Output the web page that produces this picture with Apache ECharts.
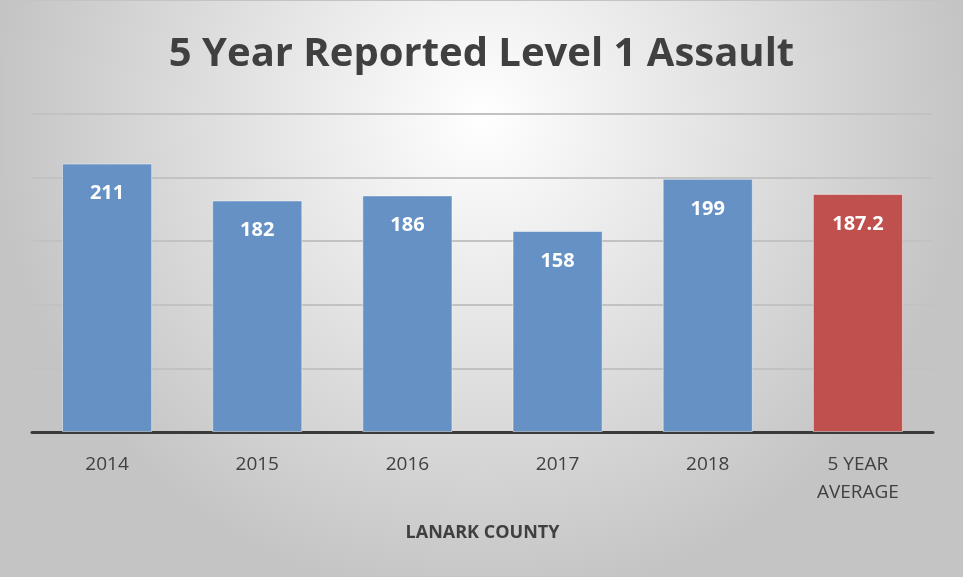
<!DOCTYPE html>
<html>
<head>
<meta charset="utf-8">
<script src="https://cdn.jsdelivr.net/npm/echarts@6/dist/echarts.min.js"></script>
<style>
  html, body { margin: 0; padding: 0; }
  #chart { width: 961px; height: 575px; border: 1px solid #c4c4c4; }
</style>
</head>
<body>
<div id="chart"></div>
<script>
const categories = ["2014", "2015", "2016", "2017", "2018", "5 YEAR\nAVERAGE"];
const counts = [211, 182, 186, 158, 199, 187.2];
const barColors = ["#6591c5", "#6591c5", "#6591c5", "#6591c5", "#6591c5", "#c0504d"];
const yTicks = [0, 50, 100, 150, 200, 250];

const chart = echarts.init(document.getElementById("chart"));
chart.setOption({
  backgroundColor: {
    type: "radial",
    x: 0.5, y: 0.2, r: 0.85,
    colorStops: [
      { offset: 0, color: "#ffffff" },
      { offset: 1, color: "#c4c4c4" },
    ],
  },
  title: {
    text: "5 Year Reported Level 1 Assault",
    left: "center",
    top: 29,
    textStyle: {
      fontFamily: "Open Sans",
      fontWeight: "bold",
      fontSize: 40,
      color: "#404040",
    },
  },
  grid: { left: 31, right: 29, top: 113, bottom: 144 },
  xAxis: {
    type: "category",
    data: categories,
    name: "LANARK COUNTY",
    nameLocation: "middle",
    nameGap: 92,
    nameTextStyle: {
      fontFamily: "Open Sans",
      fontWeight: "bold",
      fontSize: 18,
      color: "#404040",
    },
    axisLine: { lineStyle: { color: "#3a3a3a", width: 3 } },
    axisTick: { show: false },
    axisLabel: {
      fontFamily: "Open Sans",
      fontSize: 19,
      color: "#404040",
      margin: 19,
      lineHeight: 28,
    },
  },
  yAxis: {
    type: "value",
    min: yTicks[0],
    max: yTicks[yTicks.length - 1],
    interval: 50,
    axisLine: { show: false },
    axisTick: { show: false },
    axisLabel: { show: false },
    splitLine: { lineStyle: { color: "#c2c2c2", width: 2 } },
  },
  series: [
    {
      type: "bar",
      barWidth: "60%",
      data: counts.map((v, i) => ({
        value: v,
        itemStyle: { color: barColors[i] },
      })),
      itemStyle: { borderColor: "rgba(255,255,255,0.45)", borderWidth: 1 },
      label: {
        show: true,
        position: "insideTop",
        distance: 20,
        fontFamily: "Open Sans",
        fontWeight: "bold",
        fontSize: 20,
        color: "#ffffff",
      },
    },
  ],
});
</script>
</body>
</html>
